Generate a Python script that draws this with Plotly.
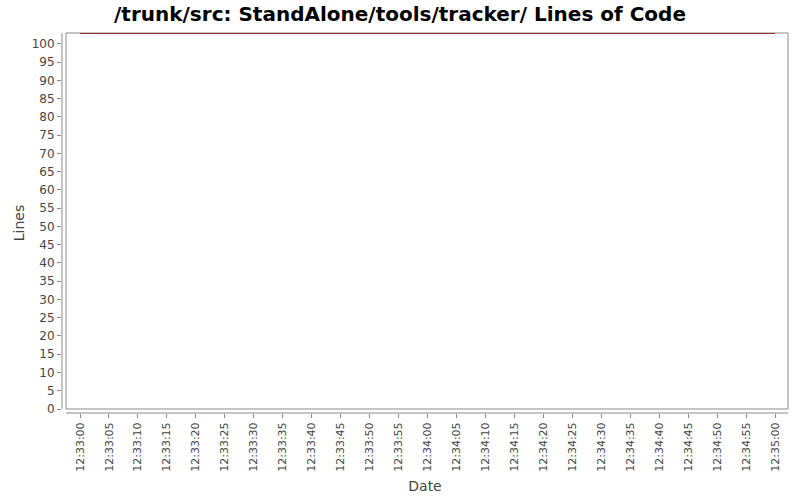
import plotly.graph_objects as go
import datetime as dt

dates = ["2010-01-01 12:33:00", "2010-01-01 12:35:00"]
lines = [103, 103]

title = "/trunk/src: StandAlone/tools/tracker/ Lines of Code"

W, H = 800, 500
L, R, T, B = 62, 12, 33, 87  # plotly plot area = axis lines
pw, ph = W - L - R, H - T - B
gap = 4

fig = go.Figure()
fig.add_trace(go.Scatter(x=dates, y=lines, mode="lines",
                         line=dict(color="#880000", width=1.5),
                         showlegend=False, hoverinfo="skip", cliponaxis=False))

gx = gap / pw
gy = gap / ph
grey = "#8a8a8a"
shapes = [
    dict(type="rect", xref="paper", yref="paper", x0=gx, x1=1, y0=gy, y1=1,
         line=dict(color=grey, width=1), layer="below"),
    dict(type="line", xref="paper", yref="paper", x0=0, x1=0, y0=gy, y1=1,
         line=dict(color=grey, width=1), layer="below"),
    dict(type="line", xref="paper", yref="paper", x0=gx, x1=1, y0=0, y1=0,
         line=dict(color=grey, width=1), layer="below"),
]

px_per_unit = (409 - 44) / 100.0
ymin = -(413 - 409) / px_per_unit
px_per_sec = (775 - 80) / 120.0
xmin_s = -(80 - 62) / px_per_sec
xmax_s = 120 + (788 - 775) / px_per_sec

base = dt.datetime(2010, 1, 1, 12, 33, 0)
xr = [base + dt.timedelta(seconds=xmin_s), base + dt.timedelta(seconds=xmax_s)]

fig.update_layout(
    width=W, height=H,
    margin=dict(l=L, r=R, t=T, b=B, pad=0, autoexpand=False),
    paper_bgcolor="white", plot_bgcolor="white",
    font=dict(family="DejaVu Sans", color="#444444"),
    title=dict(text="<b>" + title + "</b>", x=0.5, xanchor="center",
               y=1 - 14 / H, yanchor="middle", automargin=False,
               font=dict(family="DejaVu Sans", size=20, color="#000000")),
    shapes=shapes,
    xaxis=dict(type="date", range=xr, tickformat="%H:%M:%S",
               tick0="2010-01-01 12:33:00", dtick=5000, automargin=False,
               tickangle=-90, ticks="outside", ticklen=4, tickcolor=grey,
               showgrid=False, zeroline=False, showline=False,
               tickfont=dict(size=11, color="#444444"),
               title=dict(text="Date", font=dict(size=14, color="#444444"), standoff=10)),
    yaxis=dict(range=[ymin, 103], tick0=0, dtick=5, automargin=False,
               ticks="outside", ticklen=4, tickcolor=grey,
               showgrid=False, zeroline=False, showline=False,
               tickfont=dict(size=12, color="#444444"),
               title=dict(text="Lines", font=dict(size=14, color="#444444"), standoff=3)),
)

fig.write_html("out.html", config={"displayModeBar": False},
               post_script="document.body.style.margin='0px';")
